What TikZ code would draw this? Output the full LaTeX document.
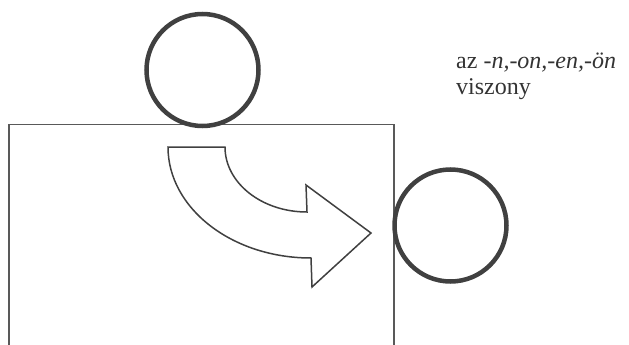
\documentclass[tikz,border=0pt]{standalone}
\usepackage{fontspec}
\setmainfont{Liberation Serif}
\begin{document}
\begin{tikzpicture}[x=1pt,y=-1pt,
  ring/.style={circle, draw=black!75, line width=4.5pt, minimum size=112pt, inner sep=0pt},
  frame/.style={draw=black!65, line width=1.8pt},
  bentarrow/.style={draw=black!75, line width=1.5pt, line join=miter, fill=white},
  lbl/.style={anchor=base west, inner sep=0pt, text=black!80, font=\fontsize{24}{26}\selectfont}]
\useasboundingbox (0,0) rectangle (629,345);
% open frame
\draw[frame] (9,346) -- (9,124.5) -- (394,124.5) -- (394,346);
% circles
\node[ring] (top) at (202.5,70) {};
\node[ring] (side) at (450.5,225.5) {};
% curved block arrow
\draw[bentarrow] (168,147) -- (225,147)
  arc[start angle=180, end angle=270, x radius=82pt, y radius=65pt]
  -- (306,185) -- (371,233) -- (312,287) -- (311,258)
  arc[start angle=270, end angle=180, x radius=143pt, y radius=111pt]
  -- cycle;
% labels
\node[lbl] (l1) at (456,68) {az \textit{-n,-on,-en,-ön}};
\node[lbl] (l2) at (456,94) {viszony};
\end{tikzpicture}
\end{document}
